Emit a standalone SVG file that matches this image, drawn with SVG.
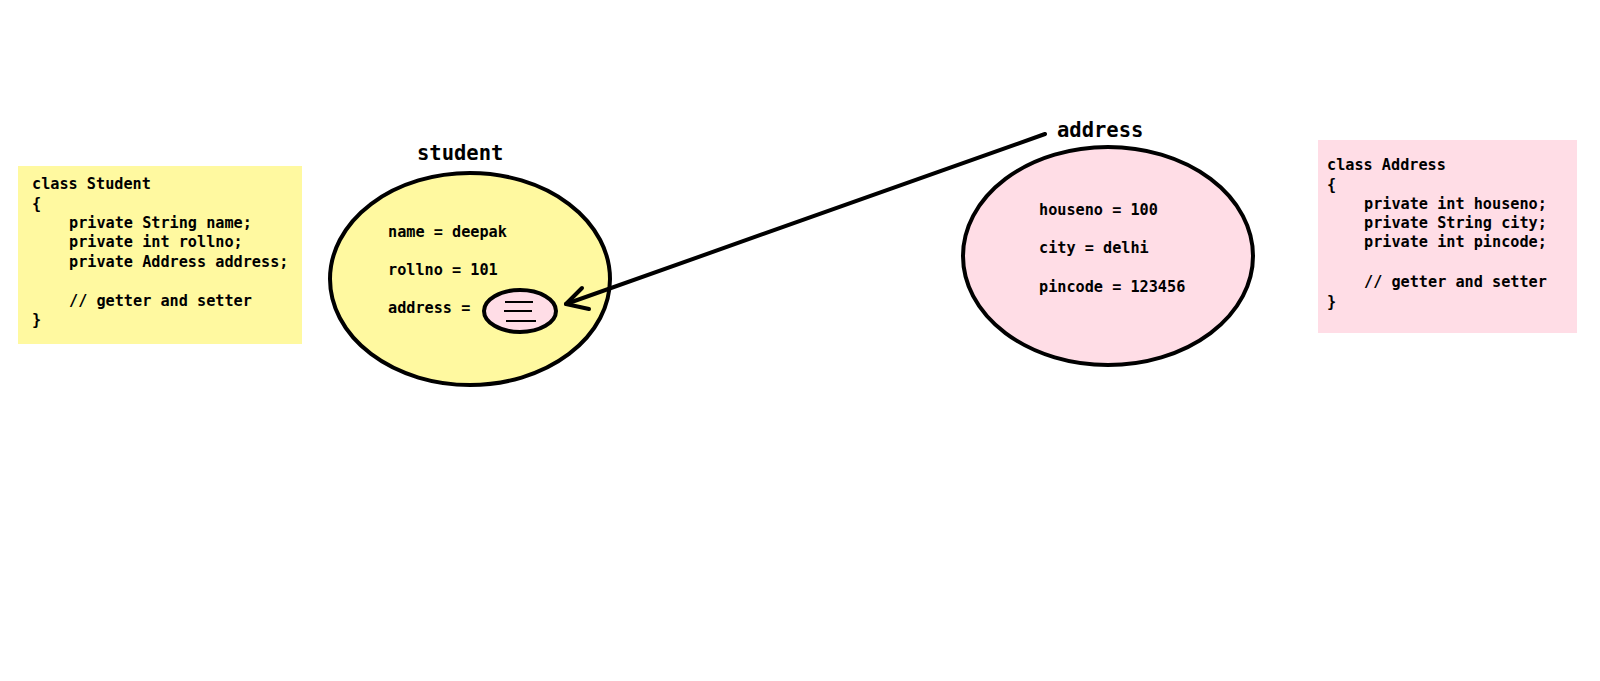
<svg xmlns="http://www.w3.org/2000/svg" width="1600" height="681" viewBox="0 0 1600 681">
<style>
.code{font-family:"DejaVu Sans Mono","Liberation Mono",monospace;font-weight:bold;font-size:15.2px;fill:#000}
.title{font-family:"DejaVu Sans Mono","Liberation Mono",monospace;font-weight:bold;font-size:20.5px;fill:#000}
.obj{stroke:#000;stroke-width:4}
.conn{stroke:#000;stroke-width:4;fill:none;stroke-linecap:round;stroke-linejoin:round}
</style>
<rect width="1600" height="681" fill="#fff"/>
<g id="class-student">
<rect x="18" y="166" width="284" height="178" fill="#FFF9A0"/>
<text class="code" x="32" y="189">class Student</text>
<text class="code" x="32" y="209">{</text>
<text class="code" x="69" y="228">private String name;</text>
<text class="code" x="69" y="247">private int rollno;</text>
<text class="code" x="69" y="267">private Address address;</text>
<text class="code" x="69" y="306">// getter and setter</text>
<text class="code" x="32" y="325">}</text>
</g>
<g id="student-object">
<text class="title" x="417" y="160">student</text>
<ellipse class="obj" cx="470" cy="279" rx="140" ry="106" fill="#FFF9A0"/>
<text class="code" x="388" y="237">name = deepak</text>
<text class="code" x="388" y="275">rollno = 101</text>
<text class="code" x="388" y="313">address =</text>
<ellipse class="obj" cx="520" cy="311" rx="36" ry="21" fill="#FFDDE6"/>
<line x1="505" y1="302" x2="533" y2="302" stroke="#000" stroke-width="2"/>
<line x1="504" y1="311" x2="532" y2="311" stroke="#000" stroke-width="2"/>
<line x1="506" y1="321" x2="536" y2="321" stroke="#000" stroke-width="2"/>
</g>
<g id="address-object">
<text class="title" x="1057" y="137">address</text>
<ellipse class="obj" cx="1108" cy="256" rx="145" ry="109" fill="#FFDDE6"/>
<text class="code" x="1039" y="215">houseno = 100</text>
<text class="code" x="1039" y="253">city = delhi</text>
<text class="code" x="1039" y="292">pincode = 123456</text>
</g>
<g id="class-address">
<rect x="1318" y="140" width="259" height="193" fill="#FFDDE6"/>
<text class="code" x="1327" y="170">class Address</text>
<text class="code" x="1327" y="190">{</text>
<text class="code" x="1364" y="209">private int houseno;</text>
<text class="code" x="1364" y="228">private String city;</text>
<text class="code" x="1364" y="247">private int pincode;</text>
<text class="code" x="1364" y="287">// getter and setter</text>
<text class="code" x="1327" y="307">}</text>
</g>
<g id="connectors">
<line class="conn" x1="1045" y1="134" x2="566" y2="304"/>
<polyline class="conn" points="582,288 566,304 589,309"/>
</g>
</svg>
